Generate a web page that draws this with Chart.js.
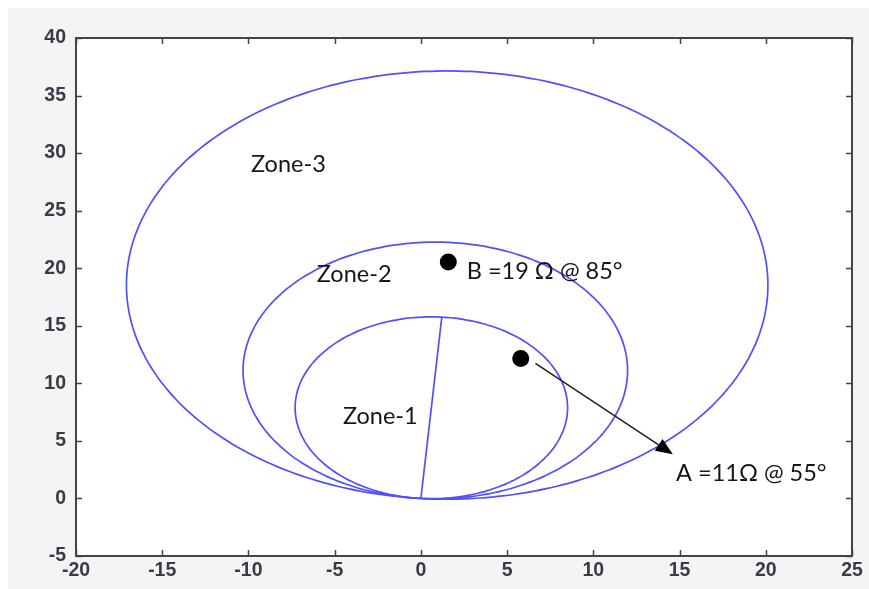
<!DOCTYPE html>
<html>
<head>
<meta charset="utf-8">
<script src="https://cdn.jsdelivr.net/npm/chart.js@4/dist/chart.umd.min.js"></script>
<style>
  html, body { margin: 0; padding: 0; background: #ffffff; }
  #wrap { width: 869px; height: 589px; position: relative; }
</style>
</head>
<body>
<div id="wrap"><canvas id="c" width="869" height="589"></canvas></div>
<script>
// Axis ticks
const xTicks = [-20, -15, -10, -5, 0, 5, 10, 15, 20, 25];
const yTicks = [-5, 0, 5, 10, 15, 20, 25, 30, 35, 40];

// Mho zones: reach (circle diameter, ohm) along the characteristic angle (deg)
const zoneNames = ['Zone-1', 'Zone-2', 'Zone-3'];
const zoneReach = [15.8, 22.3, 37.2];
const zoneAngle = [85.6, 85.7, 85.3];

// Fault impedance points (R, X)
const faultNames = ['A', 'B'];
const faultR = [5.79, 1.59];
const faultX = [12.16, 20.55];
const faultText = ['A =11\u03A9 @ 55\u00B0', 'B =19 \u03A9 @ 85\u00B0'];

// Arrow from point A towards its label
const arrowFrom = [6.64, 11.73];
const arrowTo = [14.61, 3.84];

// Where each text note sits (data coords, left/baseline)
const noteAnchors = [
  { text: 'Zone-3', x: -9.85, y: 28.35 },
  { text: 'Zone-2', x: -6.04, y: 18.8 },
  { text: 'Zone-1', x: -4.52, y: 6.5 },
  { text: faultText[1], x: 2.66, y: 19.1 },
  { text: faultText[0], x: 14.8, y: 1.5 }
];

const BLUE = '#5050ff';

function circlePoints(reach, angleDeg) {
  const a = angleDeg * Math.PI / 180;
  const r = reach / 2;
  const cx = r * Math.cos(a), cy = r * Math.sin(a);
  const pts = [];
  for (let t = 0; t <= 360; t += 2) {
    const u = t * Math.PI / 180;
    pts.push({ x: cx + r * Math.cos(u), y: cy + r * Math.sin(u) });
  }
  return pts;
}

const datasets = [];
zoneNames.forEach((name, i) => {
  datasets.push({
    label: name,
    data: circlePoints(zoneReach[i], zoneAngle[i]),
    showLine: true, borderColor: BLUE, borderWidth: 1.7,
    pointRadius: 0, fill: false, tension: 0.3
  });
});
// Zone-1 reach line from the origin
{
  const a = zoneAngle[0] * Math.PI / 180;
  datasets.push({
    label: 'Zone-1 reach',
    data: [{ x: 0, y: 0 }, { x: zoneReach[0] * Math.cos(a), y: zoneReach[0] * Math.sin(a) }],
    showLine: true, borderColor: BLUE, borderWidth: 1.7, pointRadius: 0
  });
}
datasets.push({
  label: 'Faults',
  data: faultNames.map((n, i) => ({ x: faultR[i], y: faultX[i] })),
  showLine: false, pointRadius: 8.5, pointHoverRadius: 8.5,
  backgroundColor: '#000000', borderColor: '#000000', borderWidth: 0
});

const decor = {
  id: 'decor',
  beforeDraw(chart) {
    const { ctx, chartArea: ca } = chart;
    ctx.save();
    ctx.fillStyle = '#ffffff';
    ctx.fillRect(0, 0, chart.width, chart.height);
    ctx.fillStyle = '#f4f4f4';
    ctx.fillRect(8, 8, chart.width - 8, chart.height - 8);
    ctx.fillStyle = '#ffffff';
    ctx.fillRect(ca.left, ca.top, ca.right - ca.left, ca.bottom - ca.top);
    ctx.restore();
  },
  afterDatasetsDraw(chart) {
    const { ctx, chartArea: ca, scales: { x, y } } = chart;
    ctx.save();
    // arrow
    const x0 = x.getPixelForValue(arrowFrom[0]), y0 = y.getPixelForValue(arrowFrom[1]);
    const x1 = x.getPixelForValue(arrowTo[0]), y1 = y.getPixelForValue(arrowTo[1]);
    const ang = Math.atan2(y1 - y0, x1 - x0);
    const hl = 17, hw = 7;
    const bx = x1 - hl * Math.cos(ang), by = y1 - hl * Math.sin(ang);
    ctx.strokeStyle = '#1e1e1e';
    ctx.lineWidth = 1.5;
    ctx.beginPath();
    ctx.moveTo(x0, y0);
    ctx.lineTo(bx, by);
    ctx.stroke();
    ctx.fillStyle = '#000000';
    ctx.beginPath();
    ctx.moveTo(x1, y1);
    ctx.lineTo(bx + hw * Math.sin(ang), by - hw * Math.cos(ang));
    ctx.lineTo(bx - hw * Math.sin(ang), by + hw * Math.cos(ang));
    ctx.closePath();
    ctx.fill();

    // notes
    ctx.fillStyle = '#161616';
    ctx.font = '23.5px Lato';
    ctx.textAlign = 'left';
    ctx.textBaseline = 'alphabetic';
    noteAnchors.forEach(n => {
      ctx.fillText(n.text, x.getPixelForValue(n.x), y.getPixelForValue(n.y));
    });

    // inward tick marks on all four sides
    ctx.strokeStyle = '#444444';
    ctx.lineWidth = 1.5;
    const tl = 6;
    ctx.beginPath();
    xTicks.forEach(v => {
      const px = Math.round(x.getPixelForValue(v)) + 0.5;
      ctx.moveTo(px, ca.bottom); ctx.lineTo(px, ca.bottom - tl);
      ctx.moveTo(px, ca.top); ctx.lineTo(px, ca.top + tl);
    });
    yTicks.forEach(v => {
      const py = Math.round(y.getPixelForValue(v)) + 0.5;
      ctx.moveTo(ca.left, py); ctx.lineTo(ca.left + tl, py);
      ctx.moveTo(ca.right, py); ctx.lineTo(ca.right - tl, py);
    });
    ctx.stroke();

    // box
    ctx.strokeStyle = '#454545';
    ctx.lineWidth = 2;
    ctx.strokeRect(ca.left, ca.top, ca.right - ca.left, ca.bottom - ca.top);
    ctx.restore();
  }
};

const tickFont = { family: '"Liberation Sans", Arial, sans-serif', size: 19.5, weight: 'bold' };

new Chart(document.getElementById('c'), {
  type: 'scatter',
  data: { datasets },
  options: {
    responsive: false,
    animation: false,
    devicePixelRatio: 1,
    layout: { padding: { left: 0, top: 38, right: 17, bottom: 0 } },
    plugins: { legend: { display: false }, tooltip: { enabled: false } },
    scales: {
      x: {
        type: 'linear', min: xTicks[0], max: xTicks[xTicks.length - 1],
        afterBuildTicks: s => { s.ticks = xTicks.map(v => ({ value: v })); },
        afterFit: s => { s.height = 33; },
        grid: { display: false, drawTicks: false },
        border: { display: false },
        ticks: { font: tickFont, color: '#3a3a48', padding: 3, maxRotation: 0, autoSkip: false }
      },
      y: {
        type: 'linear', min: yTicks[0], max: yTicks[yTicks.length - 1],
        afterBuildTicks: s => { s.ticks = yTicks.map(v => ({ value: v })); },
        afterFit: s => { s.width = 76; },
        grid: { display: false, drawTicks: false },
        border: { display: false },
        ticks: { font: tickFont, color: '#3a3a48', padding: 10, autoSkip: false }
      }
    }
  },
  plugins: [decor]
});
</script>
</body>
</html>
